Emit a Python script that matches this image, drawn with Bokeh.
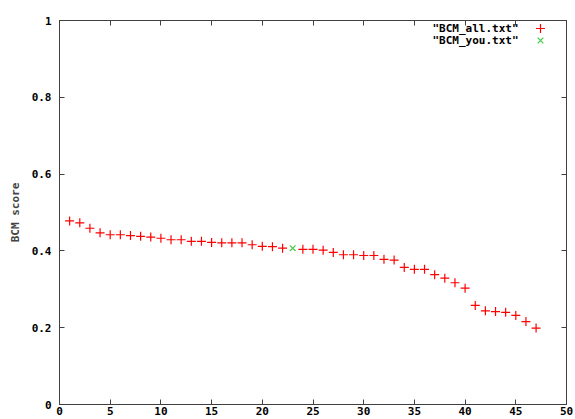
from bokeh.plotting import figure
from bokeh.models import Range1d, LinearAxis, FixedTicker, Label
from bokeh.embed import file_html
from bokeh.resources import INLINE

# ---- data ----
rank_all = [1, 2, 3, 4, 5, 6, 7, 8, 9, 10, 11, 12, 13, 14, 15, 16, 17, 18, 19, 20,
            21, 22, 24, 25, 26, 27, 28, 29, 30, 31, 32, 33, 34, 35, 36, 37, 38, 39,
            40, 41, 42, 43, 44, 45, 46, 47]
score_all = [0.478, 0.473, 0.459, 0.447, 0.442, 0.442, 0.440, 0.438, 0.436, 0.433,
             0.429, 0.429, 0.425, 0.425, 0.422, 0.421, 0.421, 0.421, 0.416, 0.412,
             0.411, 0.407, 0.404, 0.404, 0.402, 0.396, 0.390, 0.390, 0.388, 0.388,
             0.378, 0.376, 0.357, 0.352, 0.352, 0.338, 0.329, 0.317, 0.303, 0.258,
             0.244, 0.242, 0.240, 0.232, 0.216, 0.199]
rank_you = [23]
score_you = [0.407]

series_names = ['"BCM_all.txt"', '"BCM_you.txt"']
series_colors = ["#ff0000", "#44cc44"]
series_markers = ["cross", "x"]

x_ticks = [0, 5, 10, 15, 20, 25, 30, 35, 40, 45, 50]
y_ticks = [0, 0.2, 0.4, 0.6, 0.8, 1.0]
y_tick_labels = ["0", "0.2", "0.4", "0.6", "0.8", "1"]
y_label = "BCM score"

FONT = "DejaVu Sans Mono"
AXC = "#404040"

W, H = 575, 419
LEFT, RIGHT, TOP, BOTTOM = 59, 9, 20, 15

p = figure(width=W, height=H, output_backend="svg", toolbar_location=None,
           x_range=Range1d(0, 50), y_range=Range1d(0, 1),
           min_border_left=LEFT, min_border_right=RIGHT,
           min_border_top=TOP, min_border_bottom=BOTTOM,
           background_fill_color="white", border_fill_color="white")
p.grid.visible = False
p.outline_line_color = AXC
p.outline_line_width = 1

def style_axis(ax, show_labels=True):
    ax.axis_line_color = AXC
    ax.major_tick_line_color = AXC
    ax.major_tick_in = 5
    ax.major_tick_out = 0
    ax.minor_tick_line_color = None
    ax.major_label_text_font = FONT
    ax.major_label_text_font_style = "bold"
    ax.major_label_text_font_size = "11px"
    ax.major_label_text_color = "black"
    if not show_labels:
        ax.major_label_text_color = None
        ax.major_label_standoff = 0

xa = p.xaxis[0]
xa.ticker = FixedTicker(ticks=x_ticks)
style_axis(xa)
xa.major_label_standoff = 2

ya = p.yaxis[0]
ya.ticker = FixedTicker(ticks=y_ticks)
ya.major_label_overrides = {t: l for t, l in zip(y_ticks, y_tick_labels)}
style_axis(ya)
ya.major_label_standoff = 8
ya.axis_label = y_label
ya.axis_label_text_font = FONT
ya.axis_label_text_font_style = "bold"
ya.axis_label_text_font_size = "11px"
ya.axis_label_standoff = 7

# mirror axes (ticks only)
top_ax = LinearAxis(ticker=FixedTicker(ticks=x_ticks))
style_axis(top_ax, show_labels=False)
p.add_layout(top_ax, "above")
right_ax = LinearAxis(ticker=FixedTicker(ticks=y_ticks))
style_axis(right_ax, show_labels=False)
p.add_layout(right_ax, "right")

# data points
p.scatter(rank_all, score_all, marker=series_markers[0], size=9,
          line_color=series_colors[0], line_width=1.2)
p.scatter(rank_you, score_you, marker=series_markers[1], size=8,
          line_color=series_colors[1], line_width=1.2)

# gnuplot-style key: text right-aligned, sample marker to its right
frame_w = W - LEFT - RIGHT
frame_h = H - TOP - BOTTOM
for i, (name, col, mk) in enumerate(zip(series_names, series_colors, series_markers)):
    sy = 28 + 12 * i  # screen y from top
    p.add_layout(Label(x=518 - LEFT, y=H - BOTTOM - sy, x_units="screen",
                       y_units="screen", text=name, text_align="right",
                       text_baseline="middle", text_font=FONT,
                       text_font_style="bold", text_font_size="11px",
                       text_color="black"))
    mx = (540 - LEFT) / frame_w * 50
    my = (H - BOTTOM - sy) / frame_h
    p.scatter([mx], [my], marker=mk, size=9 if mk == "cross" else 8,
              line_color=col, line_width=1.2)

open("out.html", "w").write(file_html(p, INLINE))
